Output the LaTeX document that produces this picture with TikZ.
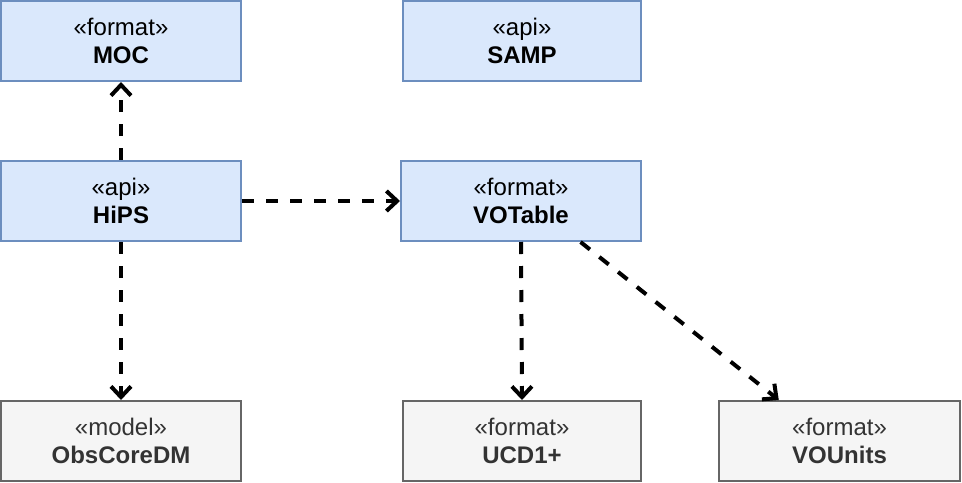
\documentclass[tikz,border=0pt]{standalone}
\usepackage{fontspec}
\setmainfont{Liberation Sans}
\usetikzlibrary{arrows.meta,calc}
\definecolor{bluefill}{HTML}{DAE8FC}
\definecolor{blueline}{HTML}{6C8EBF}
\definecolor{greyfill}{HTML}{F5F5F5}
\definecolor{greyline}{HTML}{666666}
\definecolor{greytext}{HTML}{333333}
\tikzset{
  box/.style={draw, line width=1.5pt, minimum width=180pt, minimum height=60pt,
    align=center, inner sep=0pt, font=\fontsize{18}{21}\selectfont},
  bluebox/.style={box, fill=bluefill, draw=blueline, text=black},
  greybox/.style={box, fill=greyfill, draw=greyline, text=greytext},
  dep/.style={line width=3pt, dash pattern=on 9pt off 9pt,
    -{Straight Barb[length=8pt,width=15pt]}}
}
\begin{document}
\begin{tikzpicture}[x=0.75pt,y=-0.75pt]
\useasboundingbox (0,0) rectangle (962,482);
\node[bluebox] (moc) at (121,41) {«format»\\\textbf{MOC}};
\node[bluebox, minimum width=178.5pt] (samp) at (522,41) {«api»\\\textbf{SAMP}};
\node[bluebox] (hips) at (121,201) {«api»\\\textbf{HiPS}};
\node[bluebox] (vot) at (521,201) {«format»\\\textbf{VOTable}};
\node[greybox] (obs) at (121,441) {«model»\\\textbf{ObsCoreDM}};
\node[greybox, minimum width=178.5pt] (ucd) at (522,441) {«format»\\\textbf{UCD1+}};
\node[greybox, minimum width=180.75pt] (vou) at (839.5,441) {«format»\\\textbf{VOUnits}};
\coordinate (vstart) at ($(vot.south west)!0.746!(vot.south east)$);
\coordinate (vend) at ($(vou.north west)!0.25!(vou.north east)$);
\draw[dep] (hips.north) -- (moc.south);
\draw[dep] (hips.east) -- (vot.west);
\draw[dep] (hips.south) -- (obs.north);
\draw[dep] (vot.south) -- (ucd.north);
\draw[dep] (vstart) -- (vend);
\end{tikzpicture}
\end{document}
